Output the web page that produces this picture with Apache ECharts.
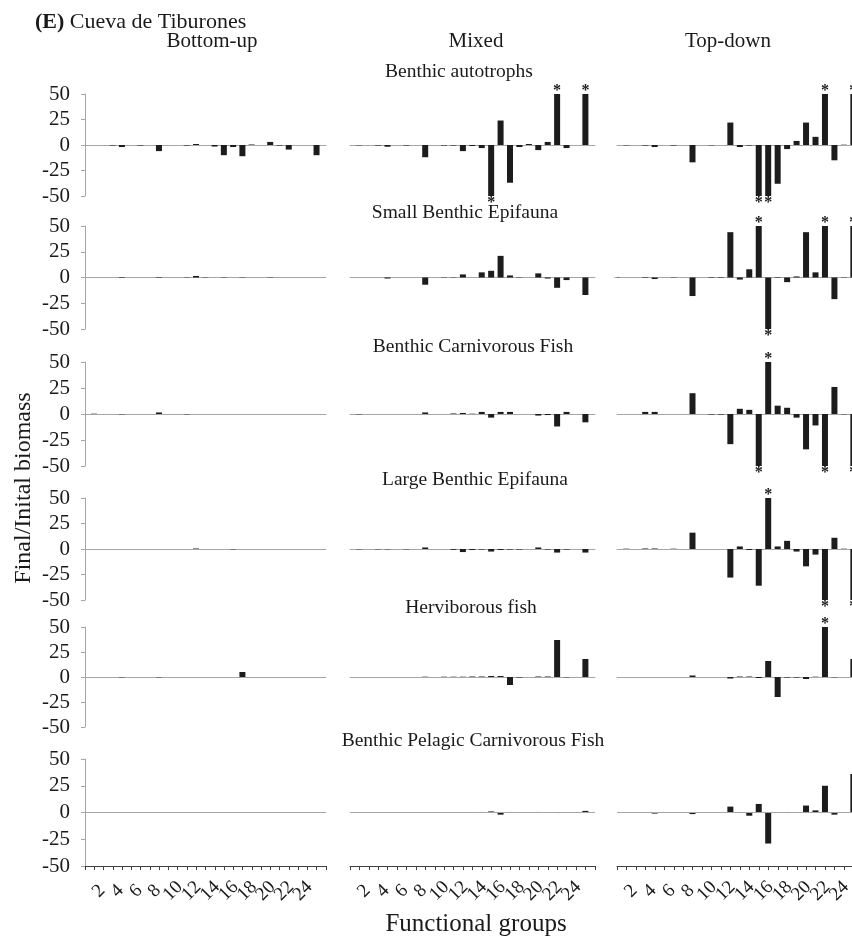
<!DOCTYPE html>
<html>
<head>
<meta charset="utf-8">
<script src="https://cdn.jsdelivr.net/npm/echarts@6/dist/echarts.min.js"></script>
<style>
  html, body { margin: 0; padding: 0; background: #ffffff; overflow: hidden; }
  /* the right-hand column runs slightly past the page edge */
  #chart { width: 866px; height: 942px; }
</style>
</head>
<body>
<div id="chart"></div>
<script>
// Functional groups on the x axis and the labels printed under the bottom row
const groups = ['1','2','3','4','5','6','7','8','9','10','11','12','13','14','15','16','17','18','19','20','21','22','23','24','25','26'];
const tickLabels = ['','2','','4','','6','','8','','10','','12','','14','','16','','18','','20','','22','','24','',''];
const yTicks = [-50, -25, 0, 25, 50];

const scenarios = ['Bottom-up', 'Mixed', 'Top-down'];
const perturbedGroups = ['Benthic autotrophs', 'Small Benthic Epifauna', 'Benthic Carnivorous Fish',
  'Large Benthic Epifauna', 'Herviborous fish', 'Benthic Pelagic Carnivorous Fish'];

// Final/initial biomass per functional group (bars beyond ±50 are drawn at the limit and starred)
const autotrophsBottomUp = [0,0,0,-0.5,-2,0,-0.5,0,-6,0,0,-0.5,1,0,-1.5,-10,-2,-11,0.5,0,3,-0.5,-4.5,0,0,-10];
const autotrophsMixed    = [0,-0.3,0,-0.5,-1.7,0,-0.5,0,-12,0,-0.5,-0.5,-6,-1,-3,-50,24,-37,-2,1,-5,3,50,-3,0,50];
const autotrophsTopDown  = [0,-0.3,0,-0.5,-2,0,-0.5,0,-17,0,-0.3,0,22,-2,-0.5,-50,-50,-38,-4,4,22,8,50,-15,0.3,50];

const smallEpifaunaBottomUp = [0,0,0,0,-0.5,0,0,0,0.5,0,0,-0.3,1.5,0.3,0,0.3,0,0.3,0,0,0.3,0,0,0,0,0];
const smallEpifaunaMixed    = [0,0,0,0,-1,0,0,0,-7,0,0.3,0.3,3,0,5,6.5,21,2,0.3,0,4,-1,-10,-2.5,0,-17];
const smallEpifaunaTopDown  = [-0.3,0,0,-0.5,-1.5,0,-0.3,0,-18,0,0.5,0.5,44,-2,8,50,-50,-0.5,-4.5,1,44,5,50,-21,0.3,50];

const carnivorousFishBottomUp = [0,0.3,0,0,-0.3,0,0,0,1.5,0,0,-0.3,0,0,0,0,0,0,0,0,0,0,0,0,0,0];
const carnivorousFishMixed    = [0,-0.3,0,0,0,0,0,0,1.5,0,0,0.5,1,0.3,2,-3.5,2,2,0,0,-1.5,-1,-12,2,0,-8];
const carnivorousFishTopDown  = [0,0,0,2,2,0,0,0,20,0,-0.5,-0.5,-29,5,4,-50,50,8,6,-3.5,-34,-11,-50,26,-0.3,-50];

const largeEpifaunaBottomUp = [0,0,0,0,0,0,0,0,0,0,0,0,0.5,0,0,0,-0.3,0,0,0,0,0,0,0,0,0];
const largeEpifaunaMixed    = [0,-0.3,0,-0.3,-0.3,0,-0.3,0,1.5,0,0,-0.8,-3,-1,-0.5,-2.5,-1,-0.5,-0.5,0,1.5,-0.5,-3.5,-0.5,0,-3.5];
const largeEpifaunaTopDown  = [0,0.3,0,0.5,0.5,0,0.3,0,16,0,0,0,-28,2.5,-1,-36,50,2.5,8,-2.5,-17,-5.5,-50,11,0.3,-50];

const herbivorousFishBottomUp = [0,0,0,0,-0.3,0,0,0,-0.3,0,0,0,0,0,0,0,0,5,0,0,0,0,0,0,0,0];
const herbivorousFishMixed    = [0,0,0,0,0,0,0,0,0.3,0,0.3,0.3,0.3,0.5,0.5,1,1,-8,-0.5,0,0.5,0.5,37,-0.3,0,18];
const herbivorousFishTopDown  = [0,0,0,0,0,0,0,0,1.5,0,0,0,-1.5,0.5,0.5,-1,16,-20,-0.5,-0.5,-2,0.3,50,-0.3,0,18];

const pelagicFishBottomUp = [0,0,0,0,-0.2,0,0,0,0.3,0,0,0,0.2,0,0,0.2,0,0,0,0,0,0,0,0,0,0];
const pelagicFishMixed    = [0,0,0,0,-0.3,0,0,0,-0.3,0,0,0,0.3,0,0.5,1,-2,0.5,0,0,0.5,0,-0.5,0,0,1.5];
const pelagicFishTopDown  = [0,0,0,0,-1,0,0,0,-1.5,0,-0.3,0,5.5,-0.5,-3,8,-29,-0.3,-0.5,0.3,6.5,2,25,-2,0,36];

// Groups flagged with an asterisk (change beyond the plotted range)
const autotrophsMixedStars = [16, 23, 26];
const autotrophsTopDownStars = [16, 17, 23, 26];
const smallEpifaunaTopDownStars = [16, 17, 23, 26];
const carnivorousFishTopDownStars = [16, 17, 23, 26];
const largeEpifaunaTopDownStars = [17, 23, 26];
const herbivorousFishTopDownStars = [23];

const panelRows = [
  [autotrophsBottomUp, autotrophsMixed, autotrophsTopDown],
  [smallEpifaunaBottomUp, smallEpifaunaMixed, smallEpifaunaTopDown],
  [carnivorousFishBottomUp, carnivorousFishMixed, carnivorousFishTopDown],
  [largeEpifaunaBottomUp, largeEpifaunaMixed, largeEpifaunaTopDown],
  [herbivorousFishBottomUp, herbivorousFishMixed, herbivorousFishTopDown],
  [pelagicFishBottomUp, pelagicFishMixed, pelagicFishTopDown]
];
const starRows = [
  [[], autotrophsMixedStars, autotrophsTopDownStars],
  [[], [], smallEpifaunaTopDownStars],
  [[], [], carnivorousFishTopDownStars],
  [[], [], largeEpifaunaTopDownStars],
  [[], [], herbivorousFishTopDownStars],
  [[], [], []]
];

// Layout of the 6 x 3 panel grid
const FONT = "'Liberation Serif', 'Times New Roman', serif";
const INK = '#1a1a1a';
const BAR = '#1c1c1c';
const colLeft = [85, 350, 617];
const colWidth = [241, 245, 246];
const rowTop = [94, 226, 362, 498, 627, 759];
const rowBottom = [196, 329, 466, 600, 727, 866];
const rowTitleX = [459, 465, 473, 475, 471, 473];
const rowTitleY = [72, 213, 347, 480, 608, 741];
const colTitleX = [212, 476, 728];
const BAR_WIDTH = 6;
const BAR_SHIFT = 0.52;   // bars sit on the left edge of each group's slot

function barRenderer(params, api) {
  const i = api.value(0);
  const v = api.value(1);
  const band = api.size([1, 0])[0];
  const base = api.coord([i, 0]);
  const tip = api.coord([i, v]);
  const cx = base[0] - band * BAR_SHIFT;
  const children = [{
    type: 'rect',
    shape: { x: cx - BAR_WIDTH / 2, y: Math.min(base[1], tip[1]), width: BAR_WIDTH, height: Math.abs(tip[1] - base[1]) },
    style: { fill: BAR }
  }];
  if (api.value(2)) {
    children.push({
      type: 'text', x: cx, y: v > 0 ? tip[1] - 3 : tip[1] + 7,
      style: { text: '*', font: 'bold 16px ' + FONT, fill: INK, align: 'center', verticalAlign: 'middle' }
    });
  }
  return { type: 'group', children: children };
}

const grids = [], xAxes = [], yAxes = [], series = [];
panelRows.forEach((row, r) => {
  row.forEach((values, c) => {
    const k = grids.length;
    const isBottom = r === panelRows.length - 1;
    grids.push({ left: colLeft[c], width: colWidth[c], top: rowTop[r], height: rowBottom[r] - rowTop[r] });
    xAxes.push({
      gridIndex: k, type: 'category', data: groups, boundaryGap: true, position: 'bottom',
      axisLine: isBottom
        ? { show: true, onZero: false, lineStyle: { color: '#404040', width: 1 } }
        : { show: true, onZero: true, lineStyle: { color: '#a6a6a6', width: 1 } },
      axisTick: isBottom
        ? { show: true, interval: 0, length: 4, lineStyle: { color: '#404040' } }
        : { show: false },
      axisLabel: isBottom
        ? { show: true, interval: 0, rotate: 45, margin: 25, align: 'center', verticalAlign: 'middle',
            fontSize: 19, fontFamily: FONT, color: INK, formatter: (v, i) => tickLabels[i] }
        : { show: false },
      splitLine: { show: false }
    });
    yAxes.push({
      gridIndex: k, type: 'value', min: yTicks[0], max: yTicks[yTicks.length - 1], interval: 25,
      axisLine: { show: c === 0, lineStyle: { color: '#a6a6a6' } },
      axisTick: { show: c === 0, length: 4, lineStyle: { color: '#a6a6a6' } },
      axisLabel: { show: c === 0, fontSize: 21, fontFamily: FONT, color: INK, margin: 15 },
      splitLine: { show: false }
    });
    const stars = starRows[r][c];
    const s = {
      type: 'custom', xAxisIndex: k, yAxisIndex: k, silent: true, clip: false,
      data: values.map((v, i) => [i, v, stars.includes(i + 1) ? 1 : 0]),
      encode: { x: 0, y: 1 },
      renderItem: barRenderer
    };
    if (isBottom) {
      s.markLine = {
        silent: true, symbol: ['none', 'none'], label: { show: false },
        lineStyle: { color: '#a6a6a6', width: 1, type: 'solid' },
        data: [{ yAxis: 0 }]
      };
    }
    series.push(s);
  });
});

const texts = [];
perturbedGroups.forEach((t, r) => {
  texts.push({ type: 'text', x: rowTitleX[r], y: rowTitleY[r],
    style: { text: t, font: '19.5px ' + FONT, fill: INK, align: 'center', verticalAlign: 'middle' } });
});
scenarios.forEach((t, c) => {
  texts.push({ type: 'text', x: colTitleX[c], y: 41,
    style: { text: t, font: '21px ' + FONT, fill: INK, align: 'center', verticalAlign: 'middle' } });
});
texts.push({ type: 'text', x: 24, y: 488, rotation: Math.PI / 2,
  style: { text: 'Final/Inital biomass', font: '24px ' + FONT, fill: INK, align: 'center', verticalAlign: 'middle' } });
texts.push({ type: 'text', x: 476, y: 924,
  style: { text: 'Functional groups', font: '25px ' + FONT, fill: INK, align: 'center', verticalAlign: 'middle' } });

const chart = echarts.init(document.getElementById('chart'), null, { renderer: 'canvas' });
chart.setOption({
  animation: false,
  backgroundColor: '#ffffff',
  title: {
    text: '{b|(E)} Cueva de Tiburones', left: 35, top: 11, padding: 0,
    textStyle: { fontFamily: FONT, fontSize: 22, fontWeight: 'normal', color: INK,
      rich: { b: { fontFamily: FONT, fontSize: 22, fontWeight: 'bold', color: INK } } }
  },
  grid: grids,
  xAxis: xAxes,
  yAxis: yAxes,
  series: series,
  graphic: texts
});
</script>
</body>
</html>
